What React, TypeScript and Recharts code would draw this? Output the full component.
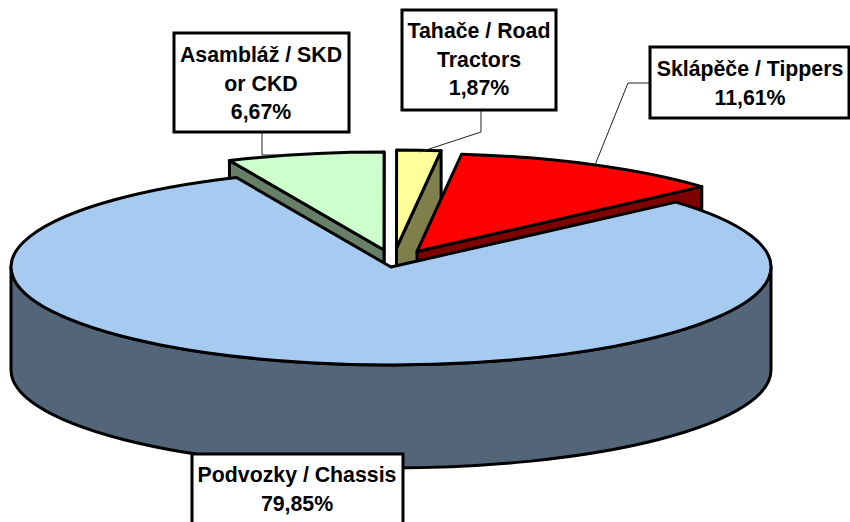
import React from "react";
import { PieChart, Pie, Cell } from "recharts";

// Data
const sliceNames = ["Asambláž / SKD or CKD", "Tahače / Road Tractors", "Sklápěče / Tippers", "Podvozky / Chassis"];
const sliceValues = [6.67, 1.87, 11.61, 79.85];
const labelLines = [
  ["Asambláž / SKD", "or CKD"],
  ["Tahače / Road", "Tractors"],
  ["Sklápěče / Tippers"],
  ["Podvozky / Chassis"],
];
const topColors = ["#CCFFCC", "#FFFF99", "#FF0000", "#A6CAF0"];
const wallColors = ["#667F66", "#7F7F4C", "#7F0000", "#536579"];

// Layout
const WIDTH = 850;
const HEIGHT = 522;
const CX = 391;
const CY = 267;
const RX = 380;
const SQUASH = 98 / 380;
const DEPTH = 103;
const explode = [
  [-7, -17],
  [5.5, -19],
  [26, -15.5],
  [0, 0],
];
const boxes = [
  { x: 174, y: 33, w: 175, h: 99, tx: 261, ty: 62 },
  { x: 402, y: 10, w: 154, h: 100, tx: 479, ty: 38 },
  { x: 650, y: 47, w: 199, h: 71, tx: 750, ty: 76 },
  { x: 192, y: 454, w: 211, h: 90, tx: 297, ty: 482 },
];
const leaders = ["262,133 262,155 285,155", "481,110 481,132 420,152", "650,83 628,83 595,165", ""];
const LINE_H = 28.5;

const rad = (d: number) => (d * Math.PI) / 180;

function Slice3D(props: any) {
  const { outerRadius, startAngle, endAngle, fill, index } = props;
  const r = outerRadius;
  const ry = r * SQUASH;
  const [dx, dy] = explode[index] ?? [0, 0];
  const ax = CX + dx;
  const ay = CY + dy;
  const a = ((90 - startAngle) % 360 + 360) % 360; // clockwise from 12 o'clock
  const span = startAngle - endAngle;
  const b = a + span;
  const pt = (t: number) => [ax + r * Math.sin(rad(t)), ay - ry * Math.cos(rad(t))];
  const [x0, y0] = pt(a);
  const [x1, y1] = pt(b);
  const large = span > 180 ? 1 : 0;
  const walls: string[] = [];
  if (Math.sin(rad(b)) > 1e-6) {
    walls.push(`M${ax},${ay}L${x1},${y1}L${x1},${y1 + DEPTH}L${ax},${ay + DEPTH}Z`);
  }
  if (Math.sin(rad(a)) < -1e-6) {
    walls.push(`M${ax},${ay}L${x0},${y0}L${x0},${y0 + DEPTH}L${ax},${ay + DEPTH}Z`);
  }
  const from = Math.max(a, 90);
  const to = Math.min(b, 270);
  if (to > from) {
    const [fx, fy] = pt(from);
    const [tx, ty] = pt(to);
    walls.push(
      `M${fx},${fy}A${r},${ry} 0 0 1 ${tx},${ty}L${tx},${ty + DEPTH}A${r},${ry} 0 0 0 ${fx},${fy + DEPTH}Z`
    );
  }
  const top = `M${ax},${ay}L${x0},${y0}A${r},${ry} 0 ${large} 1 ${x1},${y1}Z`;
  return (
    <g>
      {walls.map((d, i) => (
        <path key={i} d={d} fill={wallColors[index]} stroke="#000" strokeWidth={3} strokeLinejoin="round" />
      ))}
      <path d={top} fill={fill} stroke="#000" strokeWidth={3} strokeLinejoin="round" />
    </g>
  );
}

function SliceLabel(props: any) {
  const { index, value } = props;
  const box = boxes[index];
  const lines = [...labelLines[index], `${Number(value).toFixed(2).replace(".", ",")}%`];
  return (
    <g>
      {leaders[index] && <polyline points={leaders[index]} fill="none" stroke="#222" strokeWidth={1} />}
      <rect x={box.x} y={box.y} width={box.w} height={box.h} fill="#fff" stroke="#000" strokeWidth={3} />
      <text
        textAnchor="middle"
        fontFamily="'Liberation Sans', Arial, sans-serif"
        fontWeight="bold"
        fontSize={21.3}
        fill="#000"
      >
        {lines.map((l, i) => (
          <tspan key={i} x={box.tx} y={box.ty + i * LINE_H}>
            {l}
          </tspan>
        ))}
      </text>
    </g>
  );
}

const chartData = sliceNames.map((name, i) => ({ name, value: sliceValues[i] }));

export default function App() {
  return (
    <div style={{ position: "absolute", left: 0, top: 0, width: WIDTH, height: HEIGHT, overflow: "hidden", background: "#fff" }}>
      <PieChart width={WIDTH} height={HEIGHT} margin={{ top: 0, right: 0, bottom: 0, left: 0 }}>
        <Pie
          data={chartData}
          dataKey="value"
          nameKey="name"
          cx={CX}
          cy={CY}
          innerRadius={0}
          outerRadius={RX}
          startAngle={114}
          endAngle={-246}
          paddingAngle={0}
          isAnimationActive={false}
          shape={Slice3D}
          label={SliceLabel}
          labelLine={false}
        >
          {chartData.map((d, i) => (
            <Cell key={d.name} fill={topColors[i]} />
          ))}
        </Pie>
      </PieChart>
    </div>
  );
}
